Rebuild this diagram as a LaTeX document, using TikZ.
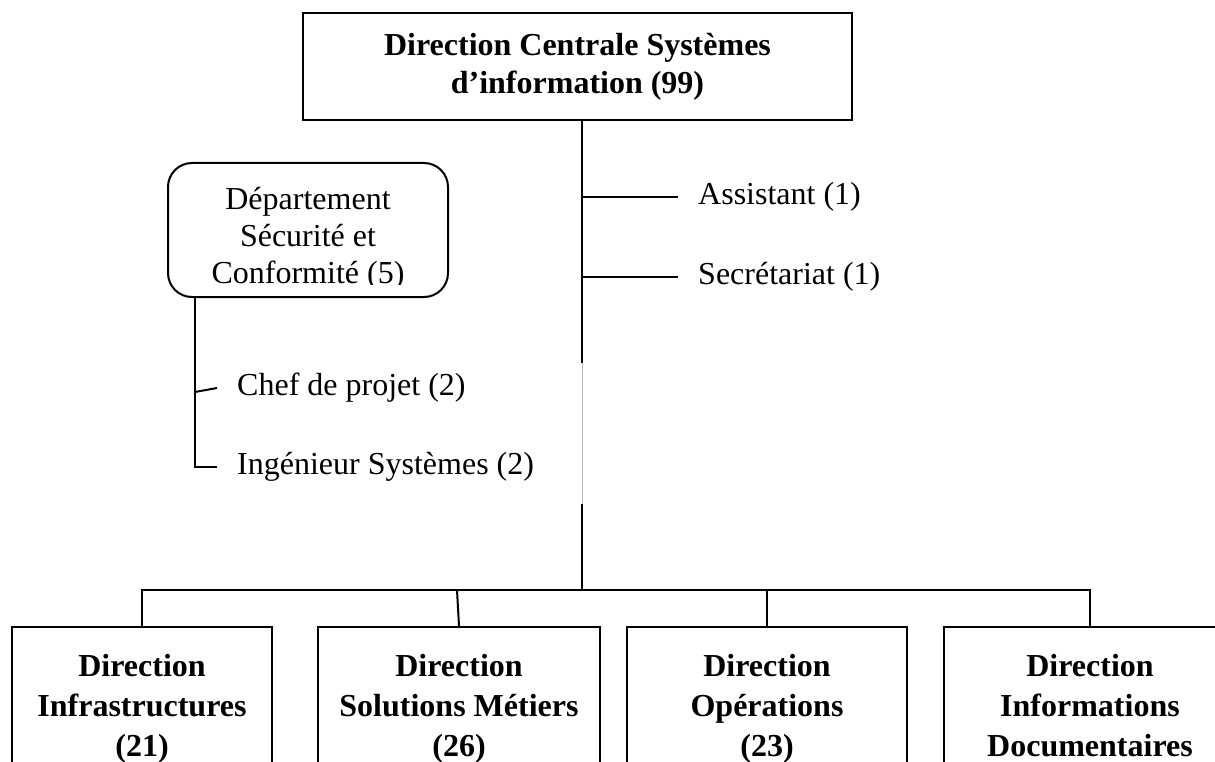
\documentclass[tikz,border=0pt]{standalone}
\usepackage{fontspec}
\setmainfont{Liberation Serif}
\usetikzlibrary{calc}

\begin{document}
\begin{tikzpicture}[x=1pt, y=-1pt, font=\fontsize{32}{38}\selectfont,
  conn/.style={line width=2pt},
  topbox/.style={draw, line width=2.6pt, minimum width=549pt, minimum height=107pt, align=center, font=\fontsize{32}{38}\selectfont\bfseries},
  dirbox/.style={draw, line width=2pt, minimum height=164pt, align=center, font=\fontsize{32}{40}\selectfont\bfseries},
  deptbox/.style={draw, line width=2pt, rounded corners=24pt, minimum width=280pt, minimum height=134pt},
  post/.style={anchor=west, inner xsep=20pt, inner ysep=0pt}]

\useasboundingbox (0,0) rectangle (1215,762);
\clip (0,0) rectangle (1215,762);

% ---- the central direction ----------------------------------------------------
\node[topbox] (dcsi) at (577.5,66.5) {Direction Centrale Systèmes\\d’information (99)};

\coordinate (hub) at (582,590);
\coordinate (gapA) at (582,363);
\coordinate (gapB) at (582,504);

\draw[conn] (dcsi.south -| hub) -- (gapA);
\draw[gray!55, line width=1pt] (gapA) -- (gapB);
\draw[conn] (gapB) -- (hub);

% ---- staff attached to the direction -------------------------------------------
\node[post] (asst) at (678,197) {Assistant (1)};
\node[post] (secr) at (678,277) {Secrétariat (1)};
\draw[conn] (asst.west -| hub) -- (asst.west);
\draw[conn] (secr.west -| hub) -- (secr.west);

% ---- the department ------------------------------------------------------------
\node[deptbox] (dept) at (308,230) {};
\begin{scope}
  \clip (160,160) rectangle (460,284);
  \node[align=center, font=\fontsize{32}{37}\selectfont] (depttxt) at (308,239)
    {Département\\Sécurité et\\Conformité (5)};
\end{scope}

\coordinate (side) at (195,469);
\node[post] (chef) at (217,388) {Chef de projet (2)};
\node[post] (ing) at (217,467) {Ingénieur Systèmes (2)};
\draw[conn] (dept.south -| side) |- (ing.west);
\draw[conn] (chef.west) -- ([yshift=-4pt]chef.west -| side);

% ---- the four directions -------------------------------------------------------
\node[dirbox, minimum width=260pt] (dinf) at (142,709) {Direction\\Infrastructures\\(21)};
\node[dirbox, minimum width=282pt] (dsm) at (459,709) {Direction\\Solutions Métiers\\(26)};
\node[dirbox, minimum width=280pt] (dop) at (767,709) {Direction\\Opérations\\(23)};
\node[dirbox, minimum width=292pt] (did) at (1090,709) {Direction\\Informations\\Documentaires\vphantom{()}};

\draw[conn] (dinf.north) |- (hub) -| (did.north);
\draw[conn] (dsm.north) -- ([xshift=-2pt]dsm.north |- hub);
\draw[conn] (dop.north) -- (dop.north |- hub);

\end{tikzpicture}
\end{document}
